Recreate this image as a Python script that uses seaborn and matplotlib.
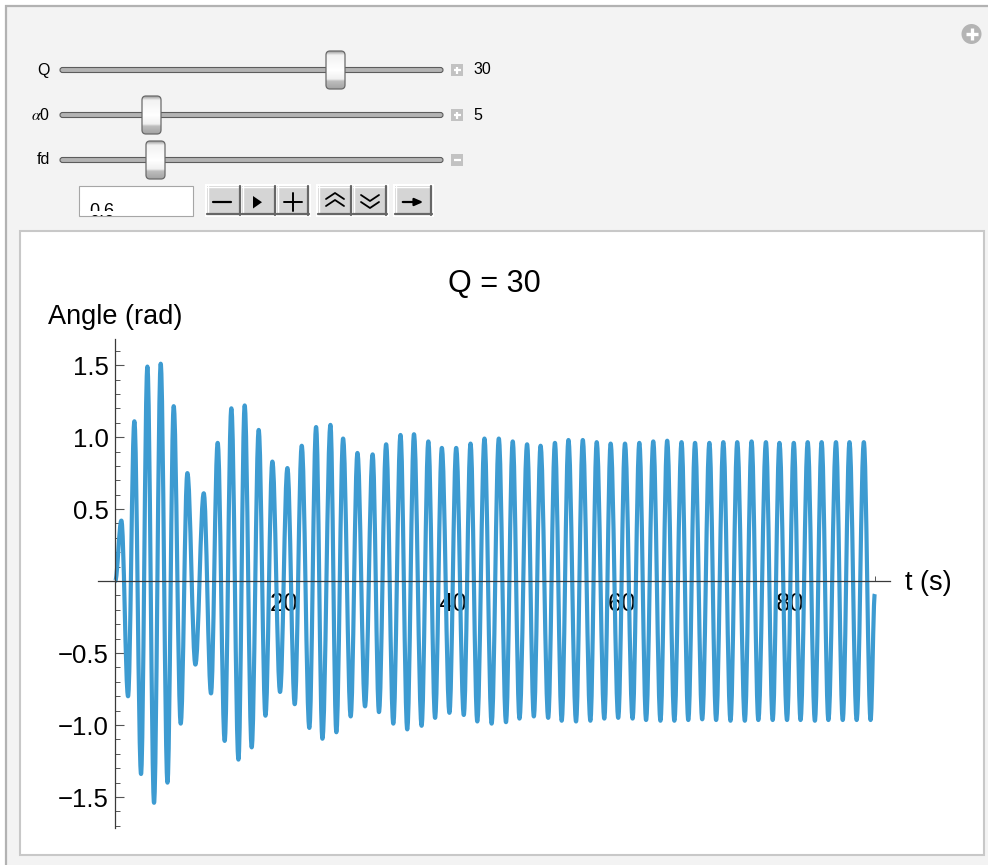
import numpy as np
import pandas as pd
import matplotlib
matplotlib.use("Agg")
import matplotlib.pyplot as plt
from matplotlib.patches import Rectangle, FancyBboxPatch, Circle, Polygon
from matplotlib.colors import LinearSegmentedColormap
from matplotlib.patheffects import AbstractPathEffect
from matplotlib.path import Path
import seaborn as sns

# extrema of the driven pendulum angle (t in s, angle in rad)
peak_t = [0.73, 2.27, 3.81, 5.39, 6.93, 8.55, 10.49, 12.14, 13.76, 15.34, 17.0, 18.62,
          20.4, 22.1, 23.8, 25.5, 27.0, 28.7, 30.5, 32.1, 33.8, 35.4, 37.1, 38.7, 40.4,
          42.1, 43.75, 45.45, 47.1, 48.8, 50.4, 52.1, 53.7, 55.4, 57.05, 58.7, 60.4,
          62.1, 63.75, 65.4, 67.1, 68.7, 70.4, 72.05, 73.7, 75.4, 77.1, 78.7, 80.4,
          82.05, 83.7, 85.4, 87.0, 88.7]
peak_angle = [0.42, 1.11, 1.49, 1.51, 1.215, 0.75, 0.61, 0.96, 1.20, 1.22, 1.05, 0.83,
              0.785, 0.94, 1.07, 1.085, 0.99, 0.89, 0.88, 0.95, 1.015, 1.02, 0.97, 0.925,
              0.925, 0.955, 0.99, 0.99, 0.97, 0.95, 0.94, 0.96, 0.98, 0.98, 0.965, 0.955,
              0.955, 0.96, 0.97, 0.975, 0.965, 0.96, 0.96, 0.965, 0.965, 0.97, 0.965, 0.96,
              0.96, 0.965, 0.965, 0.965, 0.965, 0.965]
trough_t = [1.52, 3.06, 4.6, 6.19, 7.76, 9.5, 11.35, 12.97, 14.6, 16.17, 17.8, 19.53,
            21.27, 23.0, 24.55, 26.2, 27.9, 29.6, 31.25, 32.95, 34.6, 36.3, 37.9, 39.6,
            41.3, 42.9, 44.6, 46.3, 47.9, 49.6, 51.3, 52.9, 54.6, 56.3, 57.95, 59.6,
            61.3, 62.9, 64.6, 66.25, 67.9, 69.55, 71.2, 72.9, 74.6, 76.2, 77.9, 79.6,
            81.2, 82.9, 84.5, 86.2, 87.85, 89.5]
trough_angle = [-0.80, -1.34, -1.54, -1.40, -0.99, -0.58, -0.78, -1.11, -1.24, -1.155,
                -0.935, -0.77, -0.855, -1.02, -1.095, -1.05, -0.94, -0.87, -0.91, -0.99,
                -1.03, -1.005, -0.95, -0.915, -0.93, -0.975, -0.99, -0.98, -0.955, -0.94,
                -0.95, -0.97, -0.975, -0.97, -0.955, -0.95, -0.955, -0.965, -0.97, -0.97,
                -0.965, -0.96, -0.965, -0.97, -0.97, -0.965, -0.965, -0.965, -0.965, -0.97,
                -0.965, -0.965, -0.965, -0.965]
start_t, start_angle = 0.0, 0.0
end_t, end_angle = 90.0, -0.09

x_major = [20, 40, 60, 80]
x_minor = [5, 10, 15, 25, 30, 35, 45, 50, 55, 65, 70, 75, 85, 90]
y_major = [-1.5, -1.0, -0.5, 0.5, 1.0, 1.5]
y_labels = ["\u22121.5", "\u22121.0", "\u22120.5", "0.5", "1.0", "1.5"]

# control panel values
q_value = "30"
alpha0_value = "5"
fd_value = "0.6"

LINE_BLUE = "#3d9bd1"
W, H = 988, 865


class HalfWaves(AbstractPathEffect):
    """Draw each segment between turning points as a smooth half-wave
    (flat tangent at every vertex) instead of a straight line."""

    def __init__(self, k=0.36):
        super().__init__()
        self.k = k

    def draw_path(self, renderer, gc, tpath, affine, rgbFace=None):
        v = tpath.vertices
        verts = [tuple(v[0])]
        codes = [Path.MOVETO]
        for (x0, y0), (x1, y1) in zip(v[:-1], v[1:]):
            dx = x1 - x0
            verts += [(x0 + self.k * dx, y0), (x1 - self.k * dx, y1), (x1, y1)]
            codes += [Path.CURVE4] * 3
        renderer.draw_path(gc, Path(verts, codes), affine, rgbFace)


sns.set_style("white")
plt.rcParams["font.family"] = ["Liberation Sans", "DejaVu Sans"]
plt.rcParams["mathtext.fontset"] = "stix"
plt.rcParams["text.color"] = "black"

df = pd.DataFrame({
    "t": [start_t] + peak_t + trough_t + [end_t],
    "angle": [start_angle] + peak_angle + trough_angle + [end_angle],
}).sort_values("t")

fig = plt.figure(figsize=(W / 100, H / 100), dpi=100)
fig.patch.set_facecolor("white")

# pixel-space backdrop for the Manipulate panel
bg = fig.add_axes([0, 0, 1, 1], zorder=0)
bg.set_xlim(0, W)
bg.set_ylim(H, 0)
bg.axis("off")

bg.add_patch(Rectangle((5, 5), W, H, facecolor="#f3f3f3", edgecolor="none"))
bg.plot([5, W], [6, 6], color="#b2b2b2", lw=1.6, solid_capstyle="butt")
bg.plot([6, 6], [5, H], color="#b2b2b2", lw=1.6, solid_capstyle="butt")
bg.add_patch(Rectangle((20, 231), 964, 624, facecolor="white", edgecolor="#c8c8c8", lw=1.5))

# top-right (+) icon
bg.add_patch(Circle((971.5, 34), 10, facecolor="#b4b4b4", edgecolor="none"))
bg.plot([965.5, 977.5], [34, 34], color="white", lw=2.4, solid_capstyle="butt")
bg.plot([971.5, 971.5], [28, 40], color="white", lw=2.4, solid_capstyle="butt")

thumb_cmap = LinearSegmentedColormap.from_list(
    "thumb", [(0, "#9c9c9c"), (0.1, "#f2f2f2"), (0.5, "#ffffff"),
              (0.74, "#f0f0f0"), (0.8, "#bdbdbd"), (1.0, "#a4a4a4")])
grad = np.linspace(0, 1, 64).reshape(-1, 1)


def slider(yc, thumb_x, label, value, box):
    bg.add_patch(FancyBboxPatch((60, yc - 2.5), 383, 5,
                                boxstyle="round,pad=0,rounding_size=2.5",
                                facecolor="#b3b3b3", edgecolor="#5c5c5c", lw=0.8))
    body = FancyBboxPatch((thumb_x, yc - 19), 19, 38,
                          boxstyle="round,pad=0,rounding_size=4",
                          facecolor="none", edgecolor="#6a6a6a", lw=0.9, zorder=3)
    bg.add_patch(body)
    im = bg.imshow(grad, cmap=thumb_cmap, aspect="auto", origin="upper",
                   extent=(thumb_x, thumb_x + 19, yc + 19, yc - 19), zorder=2)
    im.set_clip_path(body)
    bg.text(50, yc, label, ha="right", va="center", fontsize=11.5)
    bg.add_patch(Rectangle((451, yc - 6), 12, 12, facecolor="#c2c2c2", edgecolor="none"))
    bg.plot([453.5, 460.5], [yc, yc], color="white", lw=1.6, solid_capstyle="butt")
    if box == "plus":
        bg.plot([457, 457], [yc - 3.5, yc + 3.5], color="white", lw=1.6, solid_capstyle="butt")
    if value:
        bg.text(473, yc, value, ha="left", va="center", fontsize=11.5)


slider(70, 326, "Q", q_value, "plus")
slider(115, 142, r"$\alpha$0", alpha0_value, "plus")
slider(160, 146, "fd", None, "minus")

# value field for fd (its text is cut off at the bottom)
bg.add_patch(Rectangle((79, 186), 114, 30, facecolor="white", edgecolor="#a6a6a6", lw=0.8))
bg.text(89, 215.5, fd_value, ha="left", va="baseline", fontsize=13)
bg.add_patch(Rectangle((80, 211), 112, 4.4, facecolor="white", edgecolor="none", zorder=5))


def button(x0, x1):
    bg.add_patch(Rectangle((x0, 186), x1 - x0, 29, facecolor="#d5d5d5", edgecolor="none"))
    bg.plot([x0, x1], [186.5, 186.5], color="white", lw=1)
    bg.plot([x0 + 0.5, x0 + 0.5], [186, 215], color="white", lw=1)
    bg.plot([x0, x1], [214, 214], color="#666666", lw=1.6)
    bg.plot([x1 - 1, x1 - 1], [186, 215], color="#666666", lw=1.6)


for gx0, gx1 in [(205, 311), (316, 389), (393, 434)]:
    bg.add_patch(Rectangle((gx0, 184), gx1 - gx0, 33, facecolor="white", edgecolor="none"))
for bx0, bx1 in [(207, 241), (242, 276), (277, 309), (318, 352), (353, 387), (395, 432)]:
    button(bx0, bx1)

bg.plot([213, 231], [202, 202], color="black", lw=1.6)
bg.add_patch(Polygon([(253, 196), (253, 208.5), (262, 202.2)], closed=True,
                     facecolor="black", edgecolor="none"))
bg.plot([284, 302], [202, 202], color="black", lw=1.4)
bg.plot([293, 293], [193, 211], color="black", lw=1.4)
for dy in (0, 7):
    bg.plot([326, 335, 344], [199 + dy, 193 + dy, 199 + dy], color="black", lw=1.3)
    bg.plot([361, 370, 379], [195 + dy, 201 + dy, 195 + dy], color="black", lw=1.3)
bg.annotate("", xy=(426, 202), xytext=(400, 202),
            arrowprops=dict(arrowstyle="-|>,head_length=0.5,head_width=0.22",
                            color="black", lw=1.6))

# plot texts
bg.text(494, 292, "Q = 30", ha="center", va="baseline", fontsize=22, color="black")
bg.text(48, 324, "Angle (rad)", ha="left", va="baseline", fontsize=19.5, color="black")
bg.text(905, 590.5, "t (s)", ha="left", va="baseline", fontsize=19.5, color="black")

# main axes, Mathematica-style axes crossing at the origin
ax_l, ax_r, ax_t, ax_b = 98, 890, 339.5, 828
ax = fig.add_axes([ax_l / W, 1 - ax_b / H, (ax_r - ax_l) / W, (ax_b - ax_t) / H], zorder=1)
ax.set_facecolor("none")

sns.lineplot(data=df, x="t", y="angle", ax=ax, color=LINE_BLUE, linewidth=3.0,
             sort=True, estimator=None, solid_joinstyle="round", solid_capstyle="butt")
ax.lines[0].set_path_effects([HalfWaves()])

ax.set_xlim(-2.04, 91.8)
ax.set_ylim(-1.715, 1.678)
ax.set_xlabel("")
ax.set_ylabel("")
for side in ("top", "right"):
    ax.spines[side].set_visible(False)
ax.spines["left"].set_position(("data", 0))
ax.spines["bottom"].set_position(("data", 0))
for side in ("left", "bottom"):
    ax.spines[side].set_color("#3a3a3a")
    ax.spines[side].set_linewidth(0.9)

ax.set_xticks(x_major)
ax.set_xticklabels([str(v) for v in x_major])
ax.set_xticks(x_minor, minor=True)
ax.set_yticks(y_major)
ax.set_yticklabels(y_labels)
y_minor = [round(v, 1) for v in np.arange(-1.7, 1.65, 0.1)
           if abs(round(v, 1) * 2 - round(round(v, 1) * 2)) > 1e-6]
ax.set_yticks(y_minor, minor=True)

ax.tick_params(axis="both", which="both", direction="in", color="#555555",
               labelsize=18.5, labelcolor="black", bottom=True, left=True)
ax.tick_params(axis="x", which="major", length=6.3, width=0.8, pad=8)
ax.tick_params(axis="x", which="minor", length=3.6, width=0.7)
ax.tick_params(axis="y", which="major", length=6.5, width=0.8, pad=4.5)
ax.tick_params(axis="y", which="minor", length=3.6, width=0.7)
ax.grid(False)

fig.savefig("out.png", dpi=100)
